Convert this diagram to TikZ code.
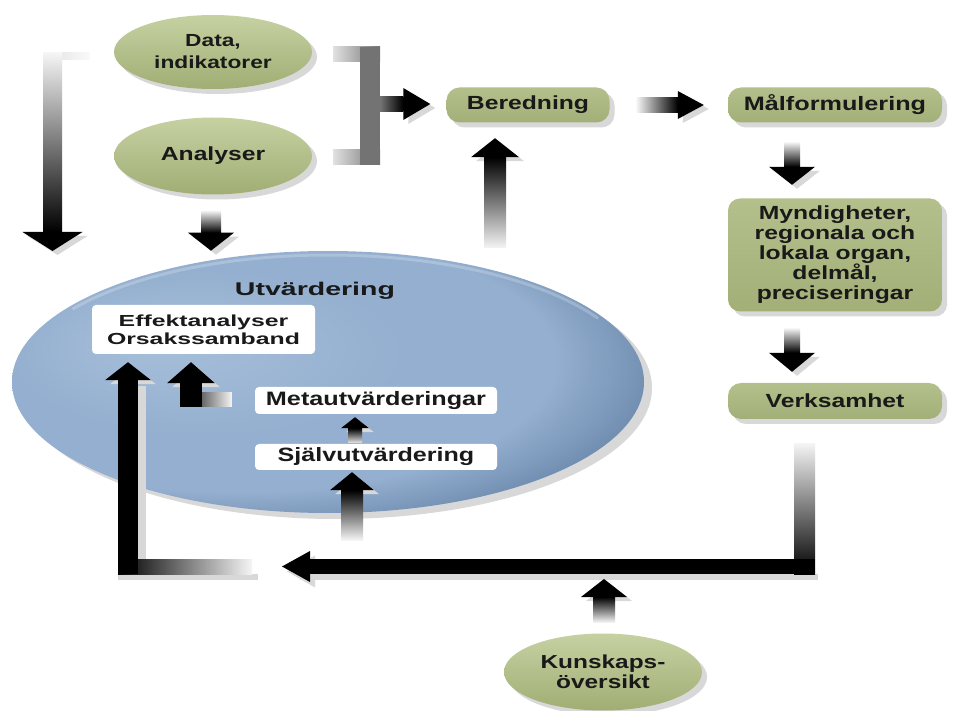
\documentclass[tikz,border=0pt]{standalone}
\usepackage{fontspec}
\setmainfont{Liberation Sans}
\newfontfamily\wfont[FakeStretch=1.3]{Liberation Sans}
\newfontfamily\xwfont[FakeStretch=1.55]{Liberation Sans}
\usetikzlibrary{calc,shapes.geometric,shadows}

\definecolor{sagelight}{RGB}{198,209,162}
\definecolor{sage}{RGB}{180,193,138}
\definecolor{sagedark}{RGB}{160,174,116}
\definecolor{boxtop}{RGB}{180,192,140}
\definecolor{boxbot}{RGB}{162,175,119}
\definecolor{shadowgray}{RGB}{216,216,216}
\definecolor{utvlight}{RGB}{166,191,218}
\definecolor{utvmid}{RGB}{148,175,207}
\definecolor{utvdark}{RGB}{108,137,173}
\definecolor{ink}{RGB}{25,25,25}

\pgfdeclareradialshading{utvshade}{\pgfpoint{-14bp}{8bp}}{%
  color(0bp)=(utvlight); color(16bp)=(utvmid); color(25bp)=(utvmid);
  color(32bp)=(utvdark); color(50bp)=(utvdark)}

\pgfdeclarelayer{back}
\pgfdeclarelayer{mid}
\pgfsetlayers{back,mid,main}

% block arrows: #1 faded start, #2 tip, #3 shaft half width,
% #4 head half width, #5 head length, #6 colour at the faded end
\newcommand\blkdown[6]{%
  \fill[shadowgray] ($(#2)+(-#4+5,-#5+4)$) -- ($(#2)+(#4+5,-#5+4)$) -- ($(#2)+(5,4)$) -- cycle;
  \shade[top color=#6, middle color=black!88, bottom color=black]
    ($(#1)+(-#3,0)$) rectangle ($(#2)+(#3,-#5)$);
  \fill[black] ($(#2)+(-#4,-#5)$) -- ($(#2)+(#4,-#5)$) -- (#2) -- cycle;}
\newcommand\blkup[6]{%
  \fill[shadowgray] ($(#2)+(-#4+5,#5+4)$) -- ($(#2)+(#4+5,#5+4)$) -- ($(#2)+(5,4)$) -- cycle;
  \shade[top color=black, middle color=black!88, bottom color=#6]
    ($(#1)+(-#3,0)$) rectangle ($(#2)+(#3,#5)$);
  \fill[black] ($(#2)+(-#4,#5)$) -- ($(#2)+(#4,#5)$) -- (#2) -- cycle;}
\newcommand\blkright[6]{%
  \fill[shadowgray] ($(#2)+(-#5+5,-#4+4)$) -- ($(#2)+(-#5+5,#4+4)$) -- ($(#2)+(5,4)$) -- cycle;
  \shade[left color=#6, middle color=black!85, right color=black]
    ($(#1)+(0,-#3)$) rectangle ($(#2)+(-#5,#3)$);
  \fill[black] ($(#2)+(-#5,-#4)$) -- ($(#2)+(-#5,#4)$) -- (#2) -- cycle;}

\tikzset{
  txt/.style={text=ink, align=center, font=\wfont\bfseries\fontsize{19}{20}\selectfont},
  greenell/.style={txt, ellipse, inner sep=0pt, minimum width=198pt, minimum height=75pt,
    top color=sagelight, middle color=sage, bottom color=sagedark,
    drop shadow={shadow xshift=5pt, shadow yshift=-5pt, opacity=1, fill=shadowgray}},
  greenbox/.style={txt, rectangle, rounded corners=13pt, inner sep=0pt,
    top color=boxtop, bottom color=boxbot,
    drop shadow={shadow xshift=5pt, shadow yshift=-5pt, opacity=1, fill=shadowgray}},
  whitebox/.style={txt, rectangle, rounded corners=4pt, fill=white, inner sep=0pt},
  utvell/.style={ellipse, inner sep=0pt, minimum width=632pt, minimum height=262pt,
    shading=utvshade,
    drop shadow={shadow xshift=8pt, shadow yshift=-6pt, opacity=1, fill=shadowgray}}
}

\begin{document}
\begin{tikzpicture}[x=1pt,y=-1pt]
\useasboundingbox (0,0) rectangle (954,711);

% page ground and the evaluation field
\begin{pgfonlayer}{back}
  \fill[white] (0,0) rectangle (954,711);
  \node[utvell] (utv) at (328,382) {};
  \draw[white, opacity=.22, line width=3pt]
    ($(utv.center)+({312*cos(215)},{127*sin(215)})$)
    arc[start angle=215, end angle=330, x radius=312, y radius=127];
\end{pgfonlayer}
\node[txt, font=\xwfont\bfseries\fontsize{18.4}{20}\selectfont] (utvt) at (315,291) {Utvärdering};

% sources
\node[greenell, font=\wfont\bfseries\fontsize{17.5}{22}\selectfont, minimum height=74pt] (data) at (213,52) {Data,\\indikatorer};
\node[greenell, minimum height=77pt] (analyser) at (213,156) {Analyser};
\node[greenell, minimum height=77pt, font=\wfont\bfseries\fontsize{18.8}{19.5}\selectfont] (kunsk) at (603,672) {Kunskaps-\\översikt};

% policy chain
\node[greenbox, minimum width=163pt, minimum height=35pt] (bered) at (528,105) {Beredning};
\node[greenbox, minimum width=214pt, minimum height=35pt, font=\wfont\bfseries\fontsize{19.4}{20}\selectfont] (malf) at (835,105) {Målformulering};
\node[greenbox, minimum width=214pt, minimum height=113pt, rounded corners=12pt] (mynd) at (835,255)
  {Myndigheter,\\regionala och\\lokala organ,\\delmål,\\preciseringar};
\node[greenbox, minimum width=214pt, minimum height=36pt] (verk) at (835,401) {Verksamhet};

% evaluation forms
\node[whitebox, minimum width=223pt, minimum height=49pt, font=\xwfont\bfseries\fontsize{16}{18}\selectfont] (effekt) at (203.5,329.5) {Effektanalyser\\Orsakssamband};
\node[whitebox, minimum width=242pt, minimum height=27pt, font=\wfont\bfseries\fontsize{19.4}{20}\selectfont] (meta) at (376,400.5) {Metautvärderingar};
\node[whitebox, minimum width=242pt, minimum height=26pt, font=\wfont\bfseries\fontsize{19.3}{20}\selectfont] (self) at (376,457) {Självutvärdering};

\begin{pgfonlayer}{mid}
  % data and analyses feed the evaluation: left bracket
  \coordinate (lbS) at ($(data.west)+(-24,1)$);
  \coordinate (lbC) at (52.5,53);
  \coordinate (lbTip) at (52.5,251);
  \shade[left color=black!12, right color=black!2] ($(lbC)+(-9.5,0)$) rectangle ($(lbS)+(0,7)$);
  \blkdown{lbC}{lbTip}{9.5}{30}{19}{black!4}

  % data and analyses feed the preparation: right bracket
  \coordinate (rbT) at ($(data.east)+(21,-5)$);
  \coordinate (rbB) at ($(analyser.east)+(21,-6)$);
  \shade[left color=black!12, right color=black!55] (rbT) rectangle ($(rbT)+(47,15)$);
  \shade[left color=black!12, right color=black!55] (rbB) rectangle ($(rbB)+(47,15)$);
  \fill[black!55] ($(rbT)+(27,0)$) rectangle ($(rbB)+(47,15)$);
  \coordinate (rbM) at ($(rbT)+(47,57)$);
  \coordinate (berIn) at ($(bered.west)+(-16,-1)$);
  \blkright{rbM}{berIn}{7.5}{16}{27}{black!55}

  % analyses down into the evaluation
  \coordinate (anS) at ($(analyser.south)+(-2,16)$);
  \coordinate (anT) at ($(analyser.south)+(-2,56)$);
  \blkdown{anS}{anT}{10}{23}{18}{black!4}

  % evaluation up to preparation
  \coordinate (berS) at (495,248);
  \coordinate (berT) at ($(bered.south)+(-33,15.5)$);
  \blkup{berS}{berT}{11}{24}{19}{black!4}

  % preparation -> goals -> authorities -> activity
  \coordinate (bmS) at ($(bered.east)+(27,0)$);
  \coordinate (bmT) at ($(malf.west)+(-24,0)$);
  \blkright{bmS}{bmT}{7.5}{14}{26}{black!4}
  \coordinate (mmS) at ($(malf.south)+(-43,19.5)$);
  \coordinate (mmT) at ($(mynd.north)+(-43,-13.5)$);
  \blkdown{mmS}{mmT}{8}{23}{18}{black!4}
  \coordinate (mvS) at ($(mynd.south)+(-43,16.5)$);
  \coordinate (mvT) at ($(verk.north)+(-43,-11)$);
  \blkdown{mvS}{mvT}{8}{23}{19}{black!4}

  % activity back to evaluation: the bottom loop
  \coordinate (vS) at ($(verk.south)+(-30.5,24)$);
  \coordinate (loopTip) at (282,566.5);
  \fill[shadowgray] (300,574) rectangle (818,580);
  \fill[shadowgray] ($(loopTip)+(33,-11)$) -- ($(loopTip)+(33,21)$) -- ($(loopTip)+(5,5)$) -- cycle;
  \shade[top color=black!4, middle color=black!88, bottom color=black] ($(vS)+(-10.5,0)$) rectangle (815,574);
  \fill[black] (310,559) rectangle (815,574);
  \fill[black] ($(loopTip)+(28,-15.5)$) -- ($(loopTip)+(28,15.5)$) -- (loopTip) -- cycle;

  % left part of the loop up to the impact analyses
  \coordinate (llS) at (252,566.5);
  \coordinate (effIn) at ($(effekt.south)+(-75.5,8)$);
  \fill[shadowgray] (138,386) rectangle (146,559);
  \fill[shadowgray] (118,574) rectangle (258,580);
  \fill[shadowgray] ($(effIn)+(-18,22)$) -- ($(effIn)+(28,22)$) -- ($(effIn)+(5,4)$) -- cycle;
  \shade[left color=black, middle color=black!85, right color=black!4] (118,559) rectangle ($(llS)+(0,7.5)$);
  \fill[black] ($(effIn)+(-10,18)$) rectangle (138,574);
  \fill[black] ($(effIn)+(-23,18)$) -- ($(effIn)+(23,18)$) -- (effIn) -- cycle;

  % meta-evaluations up to the impact analyses
  \coordinate (meS) at ($(meta.west)+(-23,-0.5)$);
  \coordinate (meIn) at ($(effekt.south)+(-12.5,8)$);
  \fill[shadowgray] ($(meIn)+(-19,25)$) -- ($(meIn)+(29,25)$) -- ($(meIn)+(5,4)$) -- cycle;
  \shade[left color=black, middle color=black!88, right color=black!4] (180,393) rectangle ($(meS)+(0,7)$);
  \fill[black] ($(meIn)+(-11,21)$) rectangle (202,407);
  \fill[black] ($(meIn)+(-24,21)$) -- ($(meIn)+(24,21)$) -- (meIn) -- cycle;

  % self-evaluation up to meta-evaluations
  \coordinate (smS) at ($(self.north)+(-21,-1)$);
  \coordinate (smT) at ($(meta.south)+(-21,3)$);
  \blkup{smS}{smT}{7}{14}{11}{black!10}

  % into self-evaluation
  \coordinate (isS) at (352,540);
  \coordinate (isT) at ($(self.south)+(-24,2)$);
  \blkup{isS}{isT}{11}{22}{18}{black!4}

  % knowledge review up to the loop
  \coordinate (kS) at ($(kunsk.north)+(1,-11)$);
  \coordinate (kT) at (604,579);
  \blkup{kS}{kT}{11}{23}{18}{black!4}
\end{pgfonlayer}
\end{tikzpicture}
\end{document}
